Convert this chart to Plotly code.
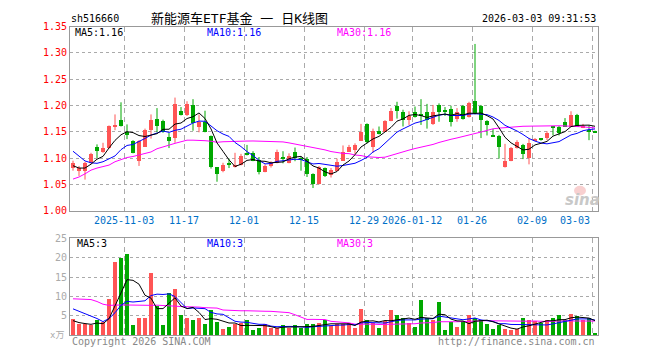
import plotly.graph_objects as go

W, H = 660, 360

# ---------------- data ----------------
tick_labels = ["2025-11-03", "11-17", "12-01", "12-15", "12-29",
               "2026-01-12", "01-26", "02-09", "03-03"]
tick_index = [9, 19, 29, 39, 49, 57, 67, 77, 87]

open_ = [1.081, 1.077, 1.077, 1.092, 1.122, 1.112, 1.119, 1.161, 1.173, 1.151,
         1.133, 1.095, 1.122, 1.155, 1.175, 1.171, 1.140, 1.138, 1.191, 1.183,
         1.201, 1.159, 1.170, 1.142, 1.083, 1.076, 1.090, 1.084, 1.087, 1.110,
         1.111, 1.098, 1.075, 1.085, 1.091, 1.102, 1.091, 1.113, 1.101, 1.099,
         1.070, 1.051, 1.081, 1.069, 1.076, 1.096, 1.113, 1.116, 1.134, 1.165,
         1.122, 1.152, 1.151, 1.171, 1.199, 1.188, 1.173, 1.188, 1.183, 1.189,
         1.165, 1.201, 1.1895, 1.195, 1.175, 1.1995, 1.179, 1.210, 1.2006, 1.171,
         1.1445, 1.143, 1.0835, 1.096, 1.120, 1.126, 1.100, 1.135, 1.136, 1.139,
         1.160, 1.160, 1.1695, 1.160, 1.183, 1.158, 1.155, 1.1495]
close = [1.092, 1.081, 1.092, 1.109, 1.115, 1.119, 1.161, 1.164, 1.162, 1.145,
         1.110, 1.133, 1.155, 1.173, 1.161, 1.151, 1.134, 1.204, 1.183, 1.204,
         1.168, 1.170, 1.151, 1.084, 1.071, 1.088, 1.089, 1.088, 1.105, 1.108,
         1.096, 1.075, 1.085, 1.091, 1.113, 1.099, 1.105, 1.101, 1.098, 1.070,
         1.051, 1.084, 1.066, 1.078, 1.093, 1.113, 1.122, 1.126, 1.151, 1.131,
         1.152, 1.146, 1.171, 1.191, 1.191, 1.173, 1.180, 1.179, 1.181, 1.173,
         1.188, 1.188, 1.1885, 1.169, 1.189, 1.175, 1.2055, 1.186, 1.173, 1.164,
         1.1427, 1.122, 1.096, 1.120, 1.131, 1.108, 1.129, 1.137, 1.1355, 1.149,
         1.158, 1.149, 1.160, 1.183, 1.160, 1.160, 1.150, 1.149]
high = [1.095, 1.085, 1.093, 1.110, 1.126, 1.129, 1.162, 1.183, 1.206, 1.164,
        1.134, 1.134, 1.156, 1.183, 1.195, 1.173, 1.148, 1.215, 1.197, 1.208,
        1.212, 1.183, 1.190, 1.143, 1.083, 1.091, 1.099, 1.110, 1.108, 1.125,
        1.113, 1.102, 1.088, 1.094, 1.116, 1.113, 1.109, 1.120, 1.102, 1.102,
        1.071, 1.085, 1.082, 1.081, 1.099, 1.124, 1.125, 1.128, 1.165, 1.166,
        1.156, 1.160, 1.172, 1.195, 1.207, 1.192, 1.189, 1.198, 1.212, 1.203,
        1.201, 1.204, 1.197, 1.1995, 1.195, 1.201, 1.207, 1.317, 1.201, 1.172,
        1.1555, 1.144, 1.127, 1.121, 1.134, 1.127, 1.138, 1.138, 1.138, 1.151,
        1.160, 1.161, 1.176, 1.189, 1.184, 1.165, 1.162, 1.152]
low = [1.076, 1.066, 1.059, 1.090, 1.100, 1.110, 1.118, 1.153, 1.160, 1.136,
       1.109, 1.085, 1.121, 1.137, 1.149, 1.148, 1.119, 1.129, 1.181, 1.180,
       1.152, 1.149, 1.149, 1.080, 1.055, 1.073, 1.081, 1.082, 1.086, 1.105,
       1.094, 1.069, 1.073, 1.082, 1.090, 1.090, 1.090, 1.094, 1.076, 1.064,
       1.043, 1.050, 1.064, 1.063, 1.075, 1.095, 1.112, 1.108, 1.133, 1.128,
       1.110, 1.145, 1.150, 1.170, 1.175, 1.160, 1.163, 1.177, 1.163, 1.156,
       1.163, 1.169, 1.180, 1.160, 1.169, 1.173, 1.177, 1.183, 1.138, 1.143,
       1.142, 1.099, 1.082, 1.094, 1.118, 1.098, 1.088, 1.133, 1.133, 1.134,
       1.143, 1.143, 1.159, 1.159, 1.159, 1.157, 1.134, 1.148]
volume = [4.1, 2.7, 2.7, 2.4, 3.75, 3.25, 9.2, 18.7, 19.7, 20.9,
          2.4, 4.2, 4.4, 15.9, 7.4, 2.4, 10.7, 11.9, 5.2, 4.2,
          3.9, 4.2, 2.7, 6.3, 3.4, 1.4, 1.9, 2.7, 3.0, 3.7,
          1.2, 1.7, 2.7, 1.7, 1.8, 2.4, 1.75, 2.4, 1.8, 2.7,
          2.75, 3.1, 3.9, 2.25, 2.7, 2.7, 3.1, 1.7, 6.7, 3.9,
          3.1, 1.7, 3.5, 6.4, 5.0, 4.3, 2.9, 1.9, 8.9, 4.2,
          3.7, 8.4, 1.2, 3.25, 1.9, 3.5, 5.0, 4.3, 3.9, 2.7,
          1.4, 2.4, 1.4, 1.2, 1.4, 4.2, 3.9, 3.5, 3.1, 3.9,
          4.2, 5.2, 3.7, 5.4, 4.9, 3.9, 4.2, 0.4]

# moving-average values before enough history exists
ma5_head = [1.0854, 1.081, 1.081, 1.0884]
ma10_head = [1.113, 1.104, 1.0945, 1.091, 1.090, 1.093, 1.098, 1.104, 1.116]
ma30_head = [1.060, 1.064, 1.070, 1.077, 1.081, 1.0835, 1.0866, 1.093, 1.0976, 1.101,
             1.103, 1.1055, 1.108, 1.1116, 1.1177, 1.1214, 1.124, 1.128, 1.131, 1.134,
             1.134, 1.134, 1.133, 1.132, 1.130, 1.131, 1.131, 1.131, 1.131]
vma5_head = [3.75, 3.25, 3.0, 2.8]
vma10_head = [6.8, 6.2, 5.6, 5.0, 4.3, 3.5, 4.3, 5.8, 7.7]
vma30_head = [9.4, 9.3, 9.25, 9.2, 8.7, 8.0, 7.7, 7.8, 7.8, 7.8,
              7.75, 7.7, 7.7, 7.7, 7.75, 7.7, 7.7, 7.5, 7.4, 7.4,
              7.25, 7.25, 7.1, 7.0, 7.0, 6.5, 6.4, 6.3, 6.3]


def ma(vals, n, head):
    return list(head) + [sum(vals[i - n + 1:i + 1]) / n for i in range(n - 1, len(vals))]


N = len(close)
idx = list(range(N))
ma5 = ma(close, 5, ma5_head)
ma10 = ma(close, 10, ma10_head)
ma30 = ma(close, 30, ma30_head)
vma5 = ma(volume, 5, vma5_head)
vma10 = ma(volume, 10, vma10_head)
vma30 = ma(volume, 30, vma30_head)

# ---------------- styling ----------------
RED = "#FF5555"
GREEN = "#00A800"
GRID = "#AAAAAA"
FRAME = "#999999"
MONO = "DejaVu Sans Mono"
CJK = "DejaVu Sans Mono, Noto Sans CJK SC"

up = [c >= o for o, c in zip(open_, close)]

fig = go.Figure()

# wicks
for flag, col in ((True, RED), (False, GREEN)):
    xs, ys = [], []
    for i in idx:
        if up[i] == flag:
            xs += [i, i, None]
            ys += [low[i], high[i], None]
    fig.add_trace(go.Scatter(x=xs, y=ys, mode="lines", line=dict(color=col, width=1),
                             hoverinfo="skip", xaxis="x", yaxis="y"))

# bodies
MINH = 0.0018
for flag, col in ((True, RED), (False, GREEN)):
    bx = [i for i in idx if up[i] == flag]
    base = [min(open_[i], close[i]) for i in bx]
    hgt = [max(abs(close[i] - open_[i]), MINH) for i in bx]
    fig.add_trace(go.Bar(x=bx, y=hgt, base=base, width=0.83, marker=dict(color=col, line=dict(width=0)),
                         hoverinfo="skip", xaxis="x", yaxis="y"))

# price MAs
for series, col in ((ma30, "#FF00FF"), (ma10, "#0000FF"), (ma5, "#000000")):
    fig.add_trace(go.Scatter(x=idx, y=series, mode="lines", line=dict(color=col, width=1),
                             hoverinfo="skip", xaxis="x", yaxis="y"))

# volume bars
fig.add_trace(go.Bar(x=idx, y=volume, width=0.83,
                     marker=dict(color=[RED if u else GREEN for u in up], line=dict(width=0)),
                     hoverinfo="skip", xaxis="x2", yaxis="y2"))
for series, col in ((vma30, "#FF00FF"), (vma10, "#0000FF"), (vma5, "#000000")):
    fig.add_trace(go.Scatter(x=idx, y=series, mode="lines", line=dict(color=col, width=1),
                             hoverinfo="skip", xaxis="x2", yaxis="y2"))

x_dom = [70 / W, 598 / W]
grid_x = [i - 0.45 for i in tick_index]
xcommon = dict(domain=x_dom, range=[-0.5, N - 0.5], tickmode="array", tickvals=grid_x,
               showticklabels=False, showgrid=True, gridcolor=GRID, griddash="5px,4px", gridwidth=1,
               showline=True, mirror=True, linecolor=FRAME, linewidth=1, zeroline=False, ticks="",
               fixedrange=True)

price_ticks = [1.00 + 0.05 * k for k in range(8)]
vol_ticks = [5, 10, 15, 20, 25]

fig.update_layout(
    width=W, height=H, margin=dict(l=0, r=0, t=0, b=0),
    paper_bgcolor="white", plot_bgcolor="white", showlegend=False,
    barmode="overlay", bargap=0, hovermode=False,
    xaxis=dict(anchor="y", **xcommon),
    xaxis2=dict(anchor="y2", **xcommon),
    yaxis=dict(domain=[1 - 211.7 / H, 1 - 21.3 / H], range=[1.0, 1.35], tickmode="array",
               tickvals=price_ticks, ticktext=[f"{v:.2f}" for v in price_ticks],
               tickfont=dict(family=MONO, size=10, color="#FF0000"),
               showgrid=True, gridcolor=GRID, griddash="dot", gridwidth=1,
               showline=True, mirror=True, linecolor=FRAME, linewidth=1, zeroline=False,
               ticks="", fixedrange=True),
    yaxis2=dict(domain=[1 - 340.5 / H, 1 - 240.5 / H], range=[0, 25], tickmode="array",
                tickvals=vol_ticks, ticktext=[str(v) for v in vol_ticks],
                tickfont=dict(family=MONO, size=10, color="#AAAAAA"),
                showgrid=True, gridcolor=GRID, griddash="dot", gridwidth=1,
                showline=True, mirror=True, linecolor=FRAME, linewidth=1, zeroline=False,
                ticks="", fixedrange=True),
)


def px(x):
    return x / W


def py(y):
    return 1 - y / H


ann = []


def text(x, y, s, color="#000000", size=10, anchor="left", family=MONO, **kw):
    ann.append(dict(x=px(x), y=py(y), xref="paper", yref="paper", text=s, showarrow=False,
                    xanchor=anchor, yanchor="middle", font=dict(family=family, size=size, color=color, **kw)))


# header
text(69, 13, "sh516660")
text(149, 13, "新能源车ETF基金 一 日K线图", size=13, family=CJK)
text(598, 13, "2026-03-03 09:31:53", anchor="right")

# price legend
text(73, 27, f"MA5:{ma5[-1]:.2f}", "#000000")
text(205, 27, f"MA10:{ma10[-1]:.2f}", "#0000FF")
text(335, 27, f"MA30:{ma30[-1]:.2f}", "#FF00FF")

# date labels
for k, (i, lab) in enumerate(zip(tick_index, tick_labels)):
    gx = 70 + 6 * (i - 0.45 + 0.5)
    if k == len(tick_index) - 1:
        text(gx, 222, lab, "#0070C8", anchor="right")
    else:
        text(gx, 222, lab, "#0070C8", anchor="center")

# volume legend
text(75, 246, f"MA5:{int(vma5[-1])}", "#000000")
text(205, 246, f"MA10:{int(vma10[-1])}", "#0000FF")
text(335, 246, f"MA30:{int(vma30[-1])}", "#FF00FF")
text(66, 340, "x万", "#AAAAAA", size=9, anchor="right", family=CJK)

# footer
text(70, 347, "Copyright 2026 SINA.COM", "#888888")
text(597, 347, "http://finance.sina.com.cn", "#888888", anchor="right")

# sina watermark
text(582, 201, "sina", "#C8C8C8", size=15, anchor="center", family="DejaVu Sans", style="italic", weight="bold")

fig.update_layout(annotations=ann)
fig.add_shape(type="circle", xref="paper", yref="paper", x0=px(574), x1=px(586), y0=py(196), y1=py(186),
              fillcolor="rgba(240,150,150,0.45)", line=dict(width=0), layer="above")

fig.write_html("out.html", config={"displayModeBar": False},
               post_script="document.body.style.margin='0';document.body.style.padding='0';")
